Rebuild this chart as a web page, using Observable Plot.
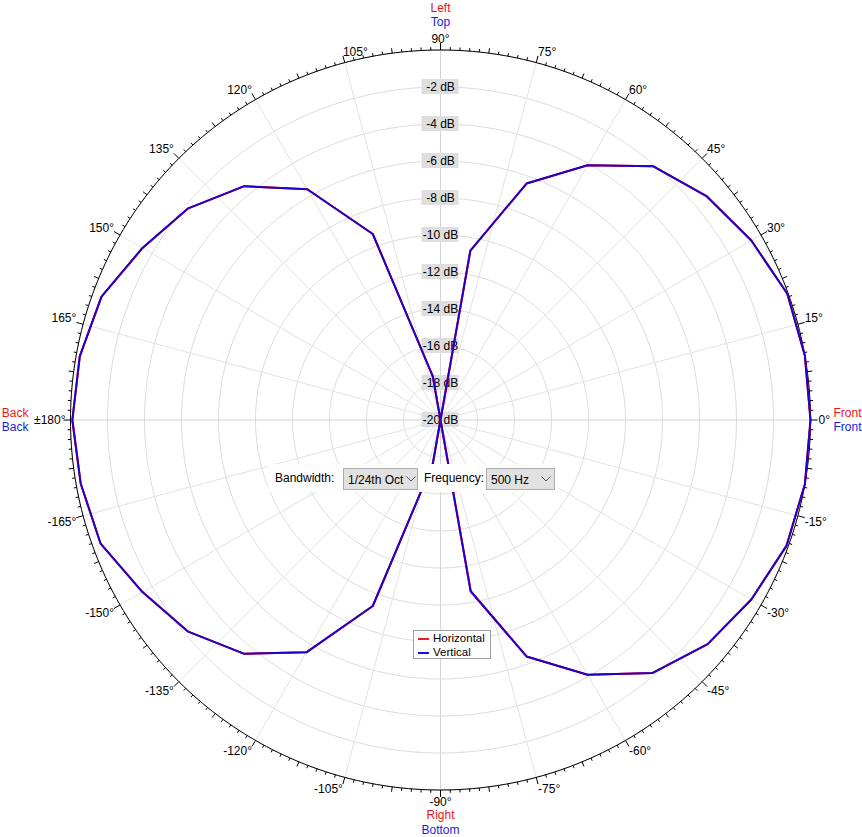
<!DOCTYPE html>
<html><head><meta charset="utf-8">
<script src="https://cdn.jsdelivr.net/npm/d3@7"></script>
<script src="https://cdn.jsdelivr.net/npm/@observablehq/plot@0.6"></script>
<style>
body{margin:0;background:#fff;font-family:"Liberation Sans",Arial,sans-serif;}
#wrap{position:relative;width:862px;height:837px;overflow:hidden;}
#wrap svg{position:absolute;left:0;top:0;}
.ov{position:absolute;font-size:12px;color:#000;line-height:1;}
.panel{position:absolute;left:268px;top:464px;width:290px;height:28px;background:#fff;}
.dd{position:absolute;top:468px;height:20px;background:#e1e1e1;border:1px solid #adadad;overflow:hidden;}
.dd span{position:absolute;left:4px;top:4px;font-size:12px;white-space:nowrap;}
.legend{position:absolute;left:413px;top:630px;width:76px;height:27px;background:#fff;border:1px solid #a0a0a0;}
.legend .sw{position:absolute;left:4px;width:11px;height:2px;}
.legend .lt{position:absolute;left:19px;font-size:11.5px;}
</style></head><body><div id="wrap"></div>
<script>
// ---- data ----
const angleDeg = [-170,-160,-150,-140,-130,-120,-110,-100,-90,-80,-70,-60,-50,-40,-30,-20,-10,0,10,20,30,40,50,60,70,80,90,100,110,120,130,140,150,160,170,180];
const horizontalDb = [-0.25,-0.45,-1.4,-2.2,-3.5,-5.5,-9.3,-17.6,-20,-10.6,-6.4,-4.1,-2.15,-1.15,-0.6,-0.1,0,0,0,-0.05,-0.6,-1.2,-2.1,-4.1,-6.4,-10.7,-20,-17.6,-9.3,-5.6,-3.5,-2.2,-1.4,-0.5,-0.2,-0.1];
const verticalDb   = [-0.25,-0.45,-1.4,-2.2,-3.5,-5.5,-9.3,-17.6,-20,-10.6,-6.4,-4.1,-2.15,-1.15,-0.6,-0.1,0,0,0,-0.05,-0.6,-1.2,-2.1,-4.1,-6.4,-10.7,-20,-17.6,-9.3,-5.6,-3.5,-2.2,-1.4,-0.5,-0.2,-0.1];
const ringDb = [-2,-4,-6,-8,-10,-12,-14,-16,-18,-20];
const ringLabels = ["-2 dB","-4 dB","-6 dB","-8 dB","-10 dB","-12 dB","-14 dB","-16 dB","-18 dB","-20 dB"];
const spokeDeg = [0,15,30,45,60,75,90,105,120,135,150,165,180,195,210,225,240,255,270,285,300,315,330,345];
const angleLabelDeg = [0,15,30,45,60,75,90,105,120,135,150,165,180,-165,-150,-135,-120,-105,-90,-75,-60,-45,-30,-15];
const angleLabelText = ["0°","15°","30°","45°","60°","75°","90°","105°","120°","135°","150°","165°","±180°","-165°","-150°","-135°","-120°","-105°","-90°","-75°","-60°","-45°","-30°","-15°"];
const minDb = -20, maxDb = 0;

// ---- geometry helpers ----
const R = 370, CX = 440, CY = 419.5;
const rad = d => d * Math.PI / 180;
const norm = db => (Math.max(db, minDb) - minDb) / (maxDb - minDb);
const P = (deg, r) => ({x: r * Math.cos(rad(deg)), y: r * Math.sin(rad(deg))});

function series(vals, name) {
  const pts = angleDeg.map((a, i) => ({...P(a, norm(vals[i])), name}));
  pts.push({...pts[0]});
  return pts;
}
const hor = series(horizontalDb, "Horizontal");
const ver = series(verticalDb, "Vertical");

const circlePts = [];
for (const db of ringDb.slice(0, -1).concat([0])) {
  for (let a = 0; a <= 360; a += 1) circlePts.push({...P(a, norm(db)), ring: db});
}
const outer = d3.range(0, 361, 1).map(a => P(a, 1));
const spokes = spokeDeg.map(a => ({a, ...P(a, 1), main: a % 90 === 0}));

const ticks = d3.range(0, 240, 1).map(k => {
  const a = k * 1.5;
  const len = k % 10 === 0 ? 7 : k % 5 === 0 ? 5 : 3;
  const o = P(a, 1 + len / R), i = P(a, 1);
  return {x1: i.x, y1: i.y, x2: o.x, y2: o.y};
});

const labR = 1 + 7 / R;
const labels = angleLabelDeg.map((a, i) => ({a, t: angleLabelText[i], ...P(a, labR)}));
const grp = f => labels.filter(f);
const upStart = grp(d => d.a > 0 && d.a <= 105 && d.a !== 90);
const upEnd = grp(d => d.a > 105 && d.a < 180);
const loStart = grp(d => d.a < 0 && d.a > -90);
const loEnd = grp(d => d.a < -90);
const rings = ringDb.map((db, i) => ({y: norm(db), t: ringLabels[i]}));
const bw = 18.5 / R, bh = 7.5 / R;

const font = {fontSize: 12, fontFamily: "Liberation Sans, Arial, sans-serif", fill: "#000"};

const plot = Plot.plot({
  width: 862, height: 837, margin: 0,
  x: {domain: [-1, 1], range: [CX - R, CX + R], axis: null},
  y: {domain: [-1, 1], range: [CY + R, CY - R], axis: null},
  style: {background: "#fff"},
  marks: [
    Plot.line(circlePts, {x: "x", y: "y", z: "ring", stroke: "#dcdcdc", strokeWidth: 1}),
    Plot.link(spokes, {x1: 0, y1: 0, x2: "x", y2: "y", stroke: d => d.main ? "#d4d4d4" : "#e2e2e2", strokeWidth: 1}),
    Plot.line(outer, {x: "x", y: "y", stroke: "#000", strokeWidth: 1}),
    Plot.link(ticks, {x1: "x1", y1: "y1", x2: "x2", y2: "y2", stroke: "#000", strokeWidth: 1}),
    Plot.rect(rings, {x1: -bw, x2: bw, y1: d => d.y - bh, y2: d => d.y + bh, fill: "#dedede"}),
    Plot.text(rings, {x: 0, y: "y", text: "t", ...font}),
    Plot.text(upStart, {x: "x", y: "y", text: "t", textAnchor: "start", lineAnchor: "bottom", ...font}),
    Plot.text(upEnd, {x: "x", y: "y", text: "t", textAnchor: "end", lineAnchor: "bottom", ...font}),
    Plot.text(loStart, {x: "x", y: "y", text: "t", textAnchor: "start", lineAnchor: "top", ...font}),
    Plot.text(loEnd, {x: "x", y: "y", text: "t", textAnchor: "end", lineAnchor: "top", ...font}),
    Plot.text(grp(d => d.a === 0), {x: "x", y: "y", text: "t", textAnchor: "start", dx: 1, ...font}),
    Plot.text(grp(d => d.a === 180), {x: "x", y: "y", text: "t", textAnchor: "end", dx: 2, ...font}),
    Plot.text(grp(d => d.a === 90), {x: "x", y: "y", text: "t", lineAnchor: "bottom", ...font}),
    Plot.text(grp(d => d.a === -90), {x: "x", y: "y", text: "t", lineAnchor: "top", ...font}),
    // side captions
    Plot.text(["Left"], {x: 0, y: 1, text: d => d, dy: -41.5, ...font, fill: "#e8141c"}),
    Plot.text(["Top"], {x: 0, y: 1, text: d => d, dy: -27.5, ...font, fill: "#1c1ce0"}),
    Plot.text(["Right"], {x: 0, y: -1, text: d => d, dy: 25.5, ...font, fill: "#e8141c"}),
    Plot.text(["Bottom"], {x: 0, y: -1, text: d => d, dy: 40.5, ...font, fill: "#1c1ce0"}),
    Plot.text(["Front"], {x: 1, y: 0, text: d => d, dx: 23, dy: -6.5, textAnchor: "start", ...font, fill: "#e8141c"}),
    Plot.text(["Front"], {x: 1, y: 0, text: d => d, dx: 23, dy: 7.5, textAnchor: "start", ...font, fill: "#1c1ce0"}),
    Plot.text(["Back"], {x: -1, y: 0, text: d => d, dx: -42, dy: -6.5, textAnchor: "end", ...font, fill: "#e8141c"}),
    Plot.text(["Back"], {x: -1, y: 0, text: d => d, dx: -42, dy: 7.5, textAnchor: "end", ...font, fill: "#1c1ce0"}),
    // data
    Plot.line(hor, {x: "x", y: "y", stroke: "#ff0000", strokeWidth: 2, curve: "linear"}),
    Plot.line(ver, {x: "x", y: "y", stroke: "#2200cc", strokeWidth: 2, curve: "linear"})
  ]
});

const wrap = document.getElementById("wrap");
wrap.appendChild(plot);

const chev = '<svg style="position:absolute;top:7px" width="10" height="6" viewBox="0 0 10 6"><polyline points="0.5,0.5 5,5 9.5,0.5" fill="none" stroke="#555" stroke-width="1"/></svg>';
wrap.insertAdjacentHTML("beforeend", `
<div class="panel"></div>
<div class="ov" style="left:275px;top:472px;">Bandwidth:</div>
<div class="dd" style="left:343px;width:73px;"><span>1/24th Oct</span><div style="position:absolute;left:60px;top:0;width:13px;height:20px;background:#e1e1e1"></div><span style="left:62px;top:0">${chev}</span></div>
<div class="ov" style="left:424px;top:472px;">Frequency:</div>
<div class="dd" style="left:486px;width:67px;"><span>500 Hz</span><span style="left:54px;top:0">${chev}</span></div>
<div class="legend">
  <div class="sw" style="top:7px;background:#ee1c24"></div><div class="lt" style="top:1px">Horizontal</div>
  <div class="sw" style="top:21px;background:#1010d8"></div><div class="lt" style="top:15px">Vertical</div>
</div>`);
</script>
</body></html>
